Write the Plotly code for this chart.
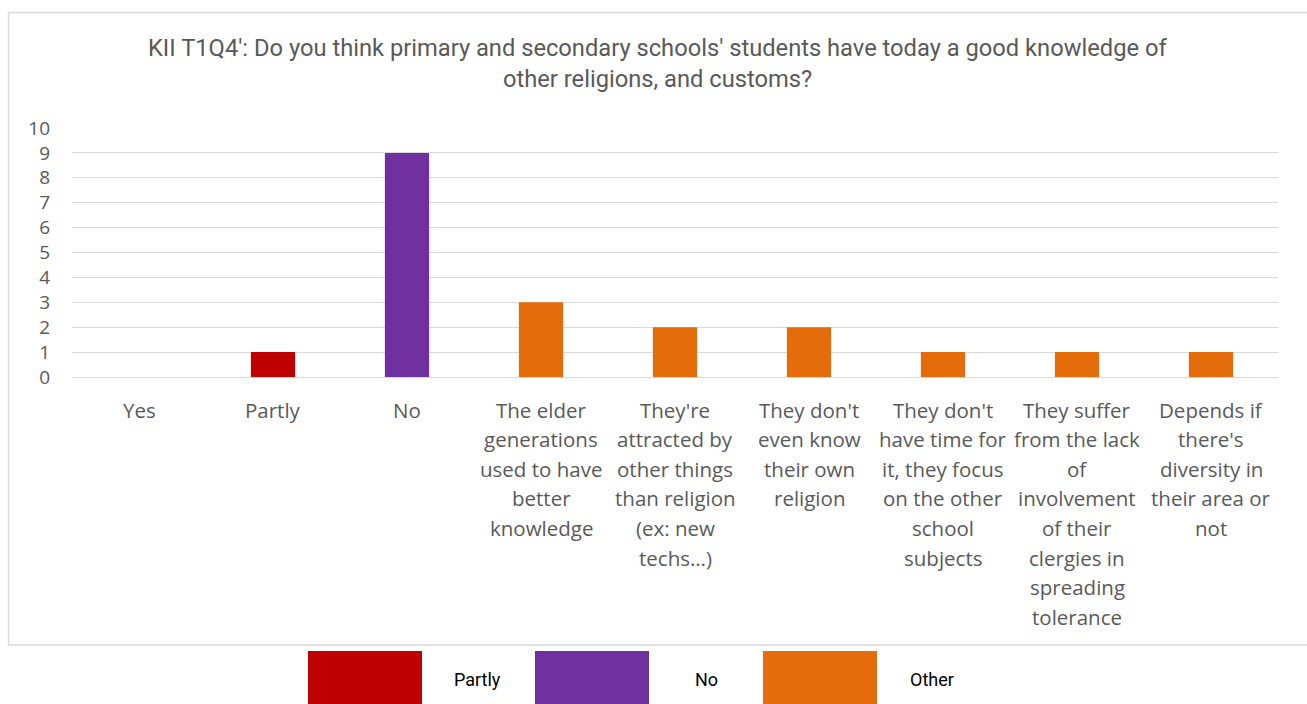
import plotly.graph_objects as go

# --- data -------------------------------------------------------------
categories = [
    "Yes", "Partly", "No",
    "The elder generations used to have better knowledge",
    "They're attracted by other things than religion (ex: new techs…)",
    "They don't even know their own religion",
    "They don't have time for it, they focus on the other school subjects",
    "They suffer from the lack of involvement of their clergies in spreading tolerance",
    "Depends if there's diversity in their area or not",
]
label_lines = [
    ["Yes"],
    ["Partly"],
    ["No"],
    ["The elder", "generations", "used to have", "better", "knowledge"],
    ["They're", "attracted by", "other things", "than religion", "(ex: new", "techs…)"],
    ["They don't", "even know", "their own", "religion"],
    ["They don't", "have time for", "it, they focus", "on the other", "school", "subjects"],
    ["They suffer", "from the lack", "of", "involvement", "of their", "clergies in", "spreading", "tolerance"],
    ["Depends if", "there's", "diversity in", "their area or", "not"],
]
partly_values = [None, 1, None, None, None, None, None, None, None]
no_values = [None, None, 9, None, None, None, None, None, None]
other_values = [None, None, None, 3, 2, 2, 1, 1, 1]

series = [("Partly", partly_values, "#C00000"),
          ("No", no_values, "#7030A0"),
          ("Other", other_values, "#E46C0A")]

title_text = ("KII T1Q4': Do you think primary and secondary schools' students have today a good knowledge of"
              "<br>other religions, and customs?")

# --- layout geometry (pixels) ------------------------------------------
W, H = 1307, 704
L, R, T, B = 72, 29, 128, 327
PW, PH = W - L - R, H - T - B


def px_x(px):
    return (px - L) / PW


def px_y(py):
    return (H - B - py) / PH


fig = go.Figure()
for name, vals, color in series:
    fig.add_trace(go.Bar(x=categories, y=vals, name=name, width=0.33,
                         marker=dict(color=color, line=dict(width=0)),
                         showlegend=False))

annotations = []
# multi-line category labels under the axis
for cat, lines in zip(categories, label_lines):
    for i, line in enumerate(lines):
        annotations.append(dict(
            x=cat, xref="x", y=px_y(409.5 + i * 29.6), yref="paper",
            text=line, showarrow=False, xanchor="center", yanchor="middle",
            font=dict(family="Open Sans", size=20.5, color="#595959")))

# title lines
for i, line in enumerate(title_text.split("<br>")):
    annotations.append(dict(
        x=px_x(657), xref="paper", y=px_y(48 + i * 31), yref="paper",
        text=line, showarrow=False, xanchor="center", yanchor="middle",
        font=dict(family="Roboto", size=23.7, color="#595959")))

shapes = [
    # chart frame
    dict(type="rect", xref="paper", yref="paper",
         x0=px_x(8.5), x1=px_x(1310), y0=px_y(645), y1=px_y(12.5),
         line=dict(color="#D9D9D9", width=1.5), fillcolor="rgba(0,0,0,0)", layer="below"),
]

# legend swatches and labels below the frame
legend_pos = [(308, 477), (535, 706), (763, 932)]
for (name, _, color), (sx, tx) in zip(series, legend_pos):
    shapes.append(dict(type="rect", xref="paper", yref="paper",
                       x0=px_x(sx), x1=px_x(sx + 114), y0=px_y(710), y1=px_y(651),
                       line=dict(width=0), fillcolor=color))
    annotations.append(dict(x=px_x(tx), xref="paper", y=px_y(679), yref="paper",
                            text=name, showarrow=False, xanchor="center", yanchor="middle",
                            font=dict(family="Roboto", size=18, color="#000000")))

fig.update_layout(
    width=W, height=H,
    margin=dict(l=L, r=R, t=T, b=B, autoexpand=False),
    paper_bgcolor="white", plot_bgcolor="white",
    barmode="overlay",
    annotations=annotations,
    shapes=shapes,
    showlegend=False,
)
fig.update_xaxes(showticklabels=False, showgrid=False, showline=False, ticks="",
                 zeroline=False, range=[-0.5, len(categories) - 0.5])
fig.update_yaxes(range=[0, 10], dtick=1, showgrid=True, gridcolor="#D9D9D9", gridwidth=1.3,
                 zeroline=True, zerolinecolor="#D9D9D9", zerolinewidth=1.3,
                 showline=False, ticks="", ticklabelstandoff=21,
                 tickfont=dict(family="Open Sans", size=19, color="#595959"))

fig.write_html("out.html")
